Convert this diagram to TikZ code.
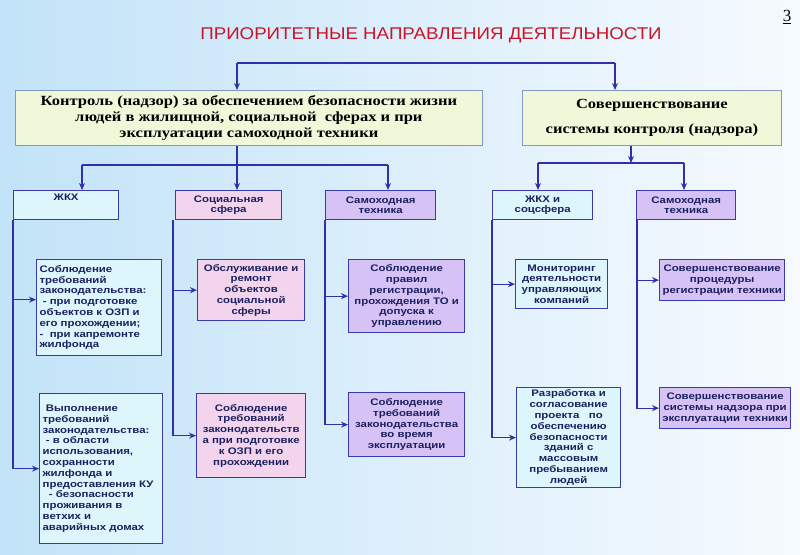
\documentclass[tikz,border=0pt]{standalone}
\usepackage{fontspec}
\setmainfont{Liberation Serif}
\newfontfamily\boxfont[FakeStretch=1.2]{Liberation Sans}
\newfontfamily\titlefont[FakeStretch=1.1]{Liberation Sans}
\newfontfamily\seriffont[FakeStretch=1.18]{Liberation Serif}
\usetikzlibrary{arrows.meta}

\definecolor{bgleft}{RGB}{194,227,248}
\definecolor{bgright}{RGB}{246,250,254}
\definecolor{linecol}{RGB}{48,48,168}
\definecolor{edgecol}{RGB}{58,58,170}
\definecolor{navy}{RGB}{28,32,96}
\definecolor{titlered}{RGB}{200,22,40}
\definecolor{bigfill}{RGB}{240,248,218}
\definecolor{bigedge}{RGB}{130,150,200}
\definecolor{cyanfill}{RGB}{220,246,252}
\definecolor{pinkfill}{RGB}{242,212,236}
\definecolor{lilacfill}{RGB}{214,194,244}

\tikzset{
  link/.style={draw=linecol, line width=1.3pt},
  bigbox/.style={draw=bigedge, fill=bigfill, line width=0.8pt, anchor=north west,
    align=center, inner sep=0pt, font=\seriffont\bfseries\fontsize{14}{16}\selectfont},
  headbox/.style={draw=edgecol, line width=1.3pt, anchor=north west, align=center,
    inner sep=0pt, text=navy, font=\boxfont\bfseries\fontsize{9.5}{10.5}\selectfont},
  txtbox/.style={draw=edgecol, line width=1.3pt, anchor=north west, align=center,
    inner xsep=3pt, inner ysep=0pt, text=navy,
    font=\boxfont\bfseries\fontsize{9.5}{10.8}\selectfont},
  gkhcol/.style={fill=cyanfill},
  soccol/.style={fill=pinkfill},
  techcol/.style={fill=lilacfill},
}

\begin{document}
\begin{tikzpicture}[x=1pt, y=-1pt, >={Stealth[length=7pt,width=6pt]}]
  % background
  \shade[left color=bgleft, right color=bgright] (0,0) rectangle (800,554);
  \useasboundingbox (0,0) rectangle (800,554);

  \node[text=titlered, font=\titlefont\fontsize{17}{20}\selectfont] (title) at (431,35)
    {ПРИОРИТЕТНЫЕ НАПРАВЛЕНИЯ ДЕЯТЕЛЬНОСТИ};
  \node[font=\fontsize{17}{18}\selectfont] (pagenum) at (787,17) {\underline{3}};

  % top level
  \node[bigbox, minimum width=467pt, minimum height=55pt] (ctrl) at (15,90)
    {Контроль (надзор) за обеспечением безопасности жизни\\
     людей в жилищной, социальной\ \ сферах и при\\
     эксплуатации самоходной техники};
  \node[bigbox, minimum width=259pt, minimum height=55pt] (impr) at (522,90)
    {Совершенствование\\[9pt] системы контроля (надзора)};

  \coordinate (tl) at (237,63);
  \coordinate (tr) at (615,63);
  \draw[link] (tl) -- (tr);
  \draw[link,->] (tl) -- (tl |- ctrl.north);
  \draw[link,->] (tr) -- (tr |- impr.north);

  % second level
  \node[headbox, gkhcol, minimum width=105pt, minimum height=29pt] (gkh) at (13,190)
    {ЖКХ\\[6pt]};
  \node[headbox, soccol, minimum width=106pt, minimum height=29pt] (soc) at (175,190)
    {Социальная\\сфера};
  \node[headbox, techcol, minimum width=110pt, minimum height=29pt] (tech) at (325,190)
    {Самоходная\\техника};
  \node[headbox, gkhcol, minimum width=100pt, minimum height=29pt] (gkhsoc) at (492,190)
    {ЖКХ и\\соцсфера};
  \node[headbox, techcol, minimum width=99pt, minimum height=29pt] (techr) at (636,190)
    {Самоходная\\техника};

  \coordinate (lb) at (237,165);
  \coordinate (lbw) at (82,165);
  \coordinate (lbe) at (388,165);
  \draw[link] (lb |- ctrl.south) -- (lb);
  \draw[link] (lbw) -- (lbe);
  \draw[link,->] (lbw) -- (lbw |- gkh.north);
  \draw[link,->] (lb) -- (lb |- soc.north);
  \draw[link,->] (lbe) -- (lbe |- tech.north);

  \coordinate (rb) at (631,163);
  \coordinate (rbw) at (538,163);
  \coordinate (rbe) at (684,163);
  \draw[link,->] (rb |- impr.south) -- (rb);
  \draw[link] (rbw) -- (rbe);
  \draw[link,->] (rbw) -- (rbw |- gkhsoc.north);
  \draw[link,->] (rbe) -- (rbe |- techr.north);

  % third level
  \node[txtbox, gkhcol, align=left, text width=119pt, minimum height=96pt] (gkh1) at (36,259)
    {Соблюдение\\требований\\законодательства:\\
     \ - при подготовке\\объектов к ОЗП и\\его прохождении;\\
     -\ \ при капремонте\\жилфонда};
  \node[txtbox, gkhcol, align=left, text width=117pt, minimum height=150pt] (gkh2) at (39,393)
    {\ Выполнение\\требований\\законодательства:\\
     \ - в области\\использования,\\сохранности\\жилфонда и\\
     предоставления КУ\\\ \ - безопасности\\проживания в\\ветхих и\\аварийных домах};
  \node[txtbox, soccol, text width=101pt, minimum height=61pt] (soc1) at (197,259)
    {Обслуживание и\\ремонт\\объектов\\социальной\\сферы};
  \node[txtbox, soccol, text width=103pt, minimum height=84pt] (soc2) at (196,393)
    {Соблюдение\\требований\\законодательств\\а при подготовке\\к ОЗП и его\\прохождении};
  \node[txtbox, techcol, text width=110pt, minimum height=73pt] (tech1) at (348,259)
    {Соблюдение\\правил\\регистрации,\\прохождения ТО и\\допуска к\\управлению};
  \node[txtbox, techcol, text width=110pt, minimum height=64pt] (tech2) at (348,392)
    {Соблюдение\\требований\\законодательства\\во время\\эксплуатации};
  \node[txtbox, gkhcol, text width=86pt, minimum height=49pt] (gkhsoc1) at (515,259)
    {Мониторинг\\деятельности\\управляющих\\компаний};
  \node[txtbox, gkhcol, text width=98pt, minimum height=100pt] (gkhsoc2) at (516,387)
    {Разработка и\\согласование\\проекта\ \ \ по\\обеспечению\\безопасности\\
     зданий с\\массовым\\пребыванием\\людей};
  \node[txtbox, techcol, inner xsep=0.5pt, text width=124pt, minimum height=41pt] (techr1) at (659,259)
    {Совершенствование\\процедуры\\регистрации техники};
  \node[txtbox, techcol, inner xsep=0.5pt, text width=130pt, minimum height=41pt] (techr2) at (659,387)
    {Совершенствование\\системы надзора при\\эксплуатации техники};

  % feeders
  \draw[link,->] (gkh.south west) |- ([yshift=8pt]gkh1.west);
  \draw[link,->] (gkh.south west) |- (gkh2.west);
  \draw[link,->] ([xshift=-2pt]soc.south west) |- (soc1.west);
  \draw[link,->] ([xshift=-2pt]soc.south west) |- (soc2.west);
  \draw[link,->] (tech.south west) |- (tech1.west);
  \draw[link,->] (tech.south west) |- (tech2.west);
  \draw[link,->] (gkhsoc.south west) |- (gkhsoc1.west);
  \draw[link,->] (gkhsoc.south west) |- (gkhsoc2.west);
  \draw[link,->] ([xshift=1pt]techr.south west) |- (techr1.west);
  \draw[link,->] ([xshift=1pt]techr.south west) |- (techr2.west);
\end{tikzpicture}
\end{document}
